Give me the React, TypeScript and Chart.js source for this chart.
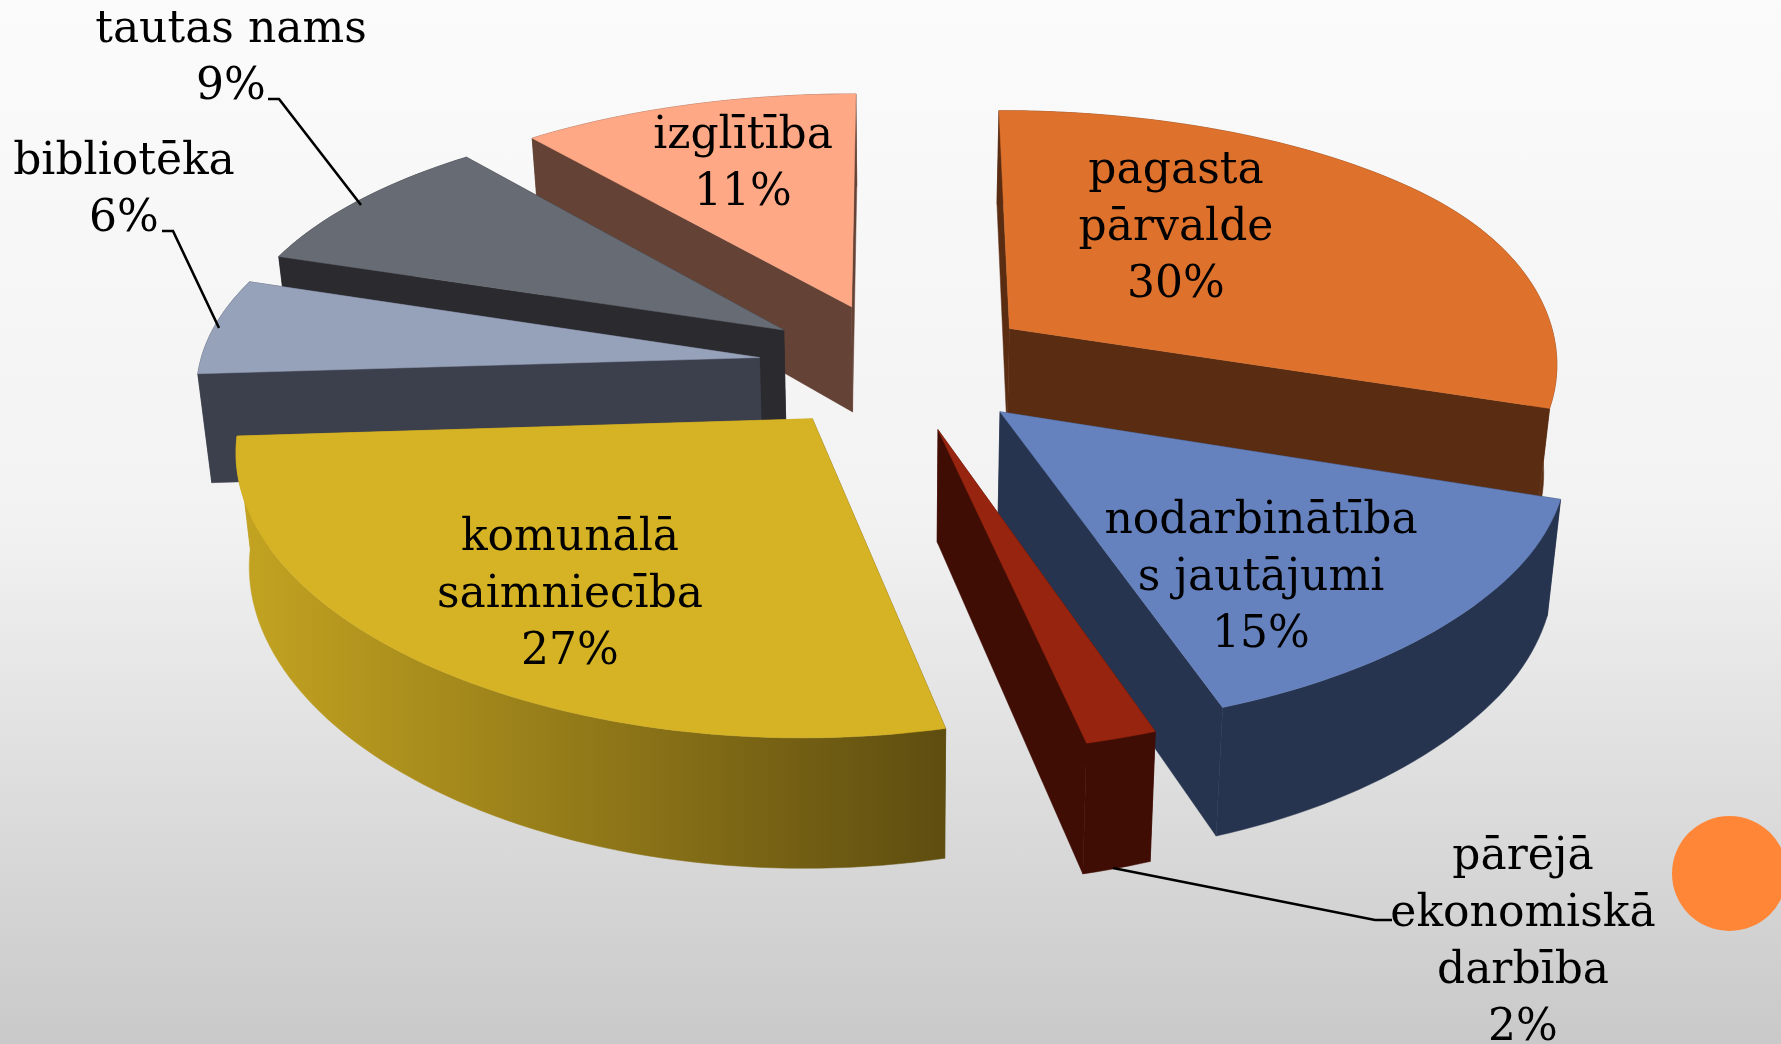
import React, { useEffect, useRef } from "react";
import { Chart, registerables } from "chart.js";

Chart.register(...registerables);

// ---- data ----
const categories = [
  "pagasta pārvalde",
  "nodarbinātības jautājumi",
  "pārējā ekonomiskā darbība",
  "komunālā saimniecība",
  "bibliotēka",
  "tautas nams",
  "izglītība",
];
const sliceValues = [30, 14.6, 1.8, 27.6, 6, 9, 11];
const percentLabels = ["30%", "15%", "2%", "27%", "6%", "9%", "11%"];
const labelNames = [
  ["pagasta", "pārvalde"],
  ["nodarbinātība", "s jautājumi"],
  ["pārējā", "ekonomiskā", "darbība"],
  ["komunālā", "saimniecība"],
  ["bibliotēka"],
  ["tautas nams"],
  ["izglītība"],
];

// ---- styles ----
const topColors = ["#DE722D", "#6682BE", "#97240F", "#D6B324", "#96A1BA", "#676B73", "#FFA886"];
const wallColors = ["#5A2C12", "#27344F", "#400D05", "#BB9B1E", "#3C404C", "#2A2A2F", "#644236"];
const paintOrder = [6, 5, 4, 0, 1, 2, 3];
const labelCentre = [
  [1176, 229], [1261, 579], [1523, 943], [570, 596], [124, 191], [231, 59], [743, 165],
];
const labelLineHeight = 57;
const leaders = [
  null, null,
  [[1113, 868], [1375, 920], [1392, 920]],
  null,
  [[219, 328], [173, 231], [162, 231]],
  [[361, 205], [279, 99], [268, 99]],
  null,
];
const SLICE_OFFSET = 116;
// view of the pie plane
const VIEW = { cx: 897.9, cy: 365.6, rx: 560, ry: 258, depth: 108.5, perspX: 0.105, perspY: 0.14, shrink: 0.98, softU: 1, softK: 0.4 };

function project(u0: number, v: number, z: number) {
  const over = u0 - VIEW.softU;
  const u = over > 0 ? u0 - VIEW.softK * over * over : u0;
  const wx = 1 - VIEW.perspX * v;
  const wy = 1 - VIEW.perspY * v;
  const s = z ? VIEW.shrink : 1;
  return {
    x: VIEW.cx + (VIEW.rx * u * s) / wx,
    y: VIEW.cy + (VIEW.ry * v) / wy + (z * VIEW.depth) / wy,
  };
}

const pie3dPlugin = {
  id: "pie3d",
  beforeDatasetsDraw(chart: any) {
    const { ctx } = chart;
    const arcs = chart.getDatasetMeta(0).data;
    const shape = (el: any) => {
      const e = el.options.offset / el.outerRadius;
      const mid = (el.startAngle + el.endAngle) / 2;
      const ou = e * Math.cos(mid);
      const ov = e * Math.sin(mid);
      const steps = Math.max(6, Math.round((el.endAngle - el.startAngle) * 40));
      const rim = (z: number) => {
        const pts = [];
        for (let i = 0; i <= steps; i++) {
          const a = el.startAngle + ((el.endAngle - el.startAngle) * i) / steps;
          pts.push(project(ou + Math.cos(a), ov + Math.sin(a), z));
        }
        return pts;
      };
      return { top: rim(0), bottom: rim(1), apexT: project(ou, ov, 0), apexB: project(ou, ov, 1) };
    };
    const fillPoly = (pts: any[], color: any) => {
      ctx.beginPath();
      pts.forEach((p, i) => (i ? ctx.lineTo(p.x, p.y) : ctx.moveTo(p.x, p.y)));
      ctx.closePath();
      ctx.fillStyle = color;
      ctx.fill();
      ctx.strokeStyle = color;
      ctx.lineWidth = 0.5;
      ctx.stroke();
    };
    ctx.save();
    paintOrder.forEach((idx) => {
      const s = shape(arcs[idx]);
      const n = s.top.length - 1;
      fillPoly([s.apexT, s.top[0], s.bottom[0], s.apexB], idx === 3 ? "#5E4D10" : wallColors[idx]);
      fillPoly([s.apexT, s.top[n], s.bottom[n], s.apexB], wallColors[idx]);
      let outer: any = wallColors[idx];
      if (idx === 3) {
        outer = ctx.createLinearGradient(s.top[n].x, 0, s.top[0].x, 0);
        outer.addColorStop(0, "#C4A421");
        outer.addColorStop(1, "#5E4D10");
      }
      fillPoly([...s.top, ...[...s.bottom].reverse()], outer);
      fillPoly([s.apexT, ...s.top], topColors[idx]);
    });
    // leader lines
    ctx.strokeStyle = "#000";
    ctx.lineWidth = 2.6;
    leaders.forEach((pts) => {
      if (!pts) return;
      ctx.beginPath();
      pts.forEach((p, i) => (i ? ctx.lineTo(p[0], p[1]) : ctx.moveTo(p[0], p[1])));
      ctx.stroke();
    });
    // labels
    ctx.fillStyle = "#000";
    ctx.font = '44px "DejaVu Serif"';
    ctx.textAlign = "center";
    ctx.textBaseline = "middle";
    labelNames.forEach((names, i) => {
      const [x, y] = labelCentre[i];
      const lines = [...names, percentLabels[i]];
      lines.forEach((t, k) => {
        ctx.fillText(t, x, y + (k - (lines.length - 1) / 2) * labelLineHeight);
      });
    });
    ctx.restore();
    return false;
  },
};

export default function App() {
  const ref = useRef<HTMLCanvasElement>(null);
  useEffect(() => {
    document.body.style.margin = "0";
    const chart = new Chart(ref.current as HTMLCanvasElement, {
      type: "pie",
      data: {
        labels: categories,
        datasets: [
          {
            data: sliceValues,
            backgroundColor: topColors,
            borderWidth: 0,
            offset: SLICE_OFFSET,
          },
        ],
      },
      options: {
        animation: false,
        responsive: false,
        maintainAspectRatio: false,
        layout: { padding: 0 },
        plugins: { legend: { display: false }, tooltip: { enabled: false } },
      },
      plugins: [pie3dPlugin],
    } as any);
    return () => chart.destroy();
  }, []);
  return (
    <div
      style={{
        position: "relative",
        width: 1781,
        height: 1044,
        overflow: "hidden",
        background: "linear-gradient(180deg, #FBFBFB 0%, #F2F2F2 50%, #C9C9C9 100%)",
      }}
    >
      <div
        style={{
          position: "absolute",
          left: 1672,
          top: 816,
          width: 115,
          height: 115,
          borderRadius: "50%",
          background: "#FF8636",
        }}
      />
      <canvas ref={ref} width={1781} height={1044} style={{ position: "absolute", left: 0, top: 0, display: "block" }} />
    </div>
  );
}
